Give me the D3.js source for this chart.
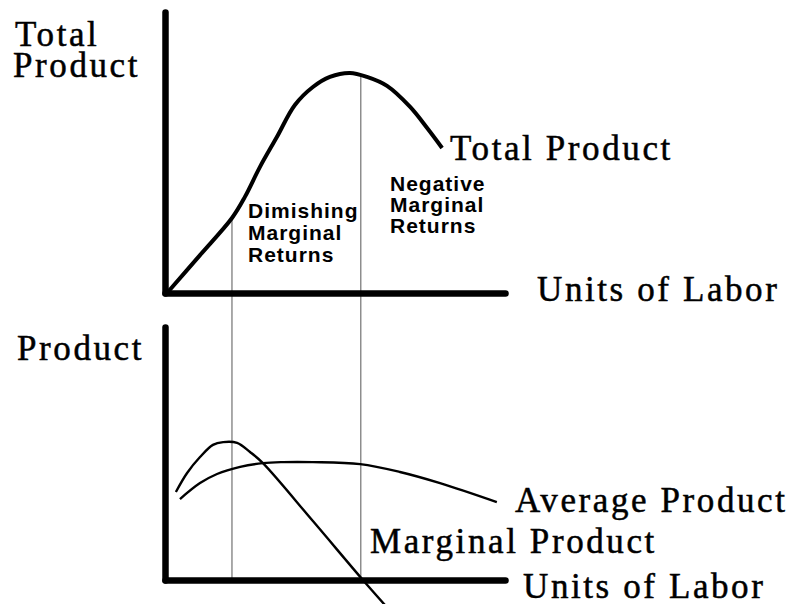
<!DOCTYPE html>
<html>
<head>
<meta charset="utf-8">
<script src="https://cdn.jsdelivr.net/npm/d3@7/dist/d3.min.js"></script>
<style>
  body { margin: 0; background: #fff; }
  .serif { font-family: 'Liberation Serif', 'Times New Roman', serif; font-size: 35px; letter-spacing: 2.6px; fill: #000; stroke: #000; stroke-width: 0.5px; }
  .sans { font-family: 'Liberation Sans', Arial, sans-serif; font-size: 21px; font-weight: bold; letter-spacing: 1px; fill: #000; }
</style>
</head>
<body>
<svg id="viz" width="794" height="604"></svg>
<script>
'use strict'

// units of labor (0-100) and total product (0-100)
const tpLabor = [0.6, 10.3, 19.7, 23.5, 27.9, 32.9, 38.2, 43.5, 48.5, 54.4, 59.4, 65.3, 72.1, 77.1, 81.5]
const tpValue = [0, 13.5, 26.7, 34.2, 44.8, 55.5, 66.9, 73.3, 76.9, 78.3, 76.9, 73.7, 66.2, 58.7, 51.6]

// marginal product, bottom panel
const mpLabor = [3.2, 6.5, 10.3, 14.1, 17.1, 21.2, 25.0, 28.8, 43.5, 58.2, 64.7]
const mpValue = [34.8, 42.3, 48.6, 53.4, 54.5, 54.2, 50.6, 46.2, 23.3, 0, -9.9]

// average product, bottom panel
const apLabor = [4.4, 10.3, 15.3, 22.1, 28.8, 34.7, 43.5, 57.4, 69.1, 80.9, 97.6]
const apValue = [32.0, 38.3, 41.9, 44.7, 46.2, 46.6, 46.6, 45.8, 42.7, 38.3, 30.8]

// thin guide lines: where they stand and the total product they start from
const guideLabor = [19.7, 57.6]
const guideTop = [26.7, 77.4]

const svg = d3.select('#viz')

const x = d3.scaleLinear().domain([0, 100]).range([165, 505])
const yTop = d3.scaleLinear().domain([0, 100]).range([293, 12])
const yBot = d3.scaleLinear().domain([0, 100]).range([580, 327])

/**
 * Draws a pair of thick axes without ticks.
 *
 * @param {*} y The vertical scale of the panel
 */
function drawAxes (y) {
  const axes = svg.append('g')
  axes.append('g')
    .attr('transform', 'translate(0,' + y(0) + ')')
    .call(d3.axisBottom(x).tickValues([]).tickSizeOuter(0))
  axes.append('g')
    .attr('transform', 'translate(' + x(0) + ',0)')
    .call(d3.axisLeft(y).tickValues([]).tickSizeOuter(0))
  axes.selectAll('.domain')
    .attr('stroke', '#000')
    .attr('stroke-width', 6.5)
    .attr('stroke-linecap', 'round')
}

/**
 * Draws one curve from two arrays.
 */
function drawCurve (labor, values, y, width) {
  const pts = labor.map((d, i) => [d, values[i]])
  const line = d3.line()
    .x(d => x(d[0]))
    .y(d => y(d[1]))
    .curve(d3.curveCatmullRom)
  svg.append('path')
    .datum(pts)
    .attr('d', line)
    .attr('fill', 'none')
    .attr('stroke', '#000')
    .attr('stroke-width', width)
    .attr('stroke-linejoin', 'round')
}

function label (txt, px, py, cls) {
  svg.append('text')
    .attr('class', cls)
    .attr('x', px)
    .attr('y', py)
    .text(txt)
}

// guide lines go first so the curves sit on top
guideLabor.forEach((g, i) => {
  svg.append('line')
    .attr('x1', x(g)).attr('x2', x(g))
    .attr('y1', yTop(guideTop[i]))
    .attr('y2', yBot(0))
    .attr('stroke', '#555')
    .attr('stroke-width', 1)
})

drawAxes(yTop)
drawAxes(yBot)

drawCurve(tpLabor, tpValue, yTop, 4)
drawCurve(mpLabor, mpValue, yBot, 2.4)
drawCurve(apLabor, apValue, yBot, 2.4)

label('Total', 15, 46, 'serif')
label('Product', 13, 77, 'serif')
label('Total Product', 450, 160, 'serif')
label('Units of Labor', 537, 301, 'serif')
label('Product', 17, 360, 'serif')
label('Average Product', 515, 512, 'serif')
label('Marginal Product', 370, 553, 'serif')
label('Units of Labor', 523, 598, 'serif')

const dim = ['Dimishing', 'Marginal', 'Returns']
const neg = ['Negative', 'Marginal', 'Returns']
dim.forEach((t, i) => label(t, 248, 218 + i * 22, 'sans'))
neg.forEach((t, i) => label(t, 390, 191 + i * 21, 'sans'))
</script>
</body>
</html>
